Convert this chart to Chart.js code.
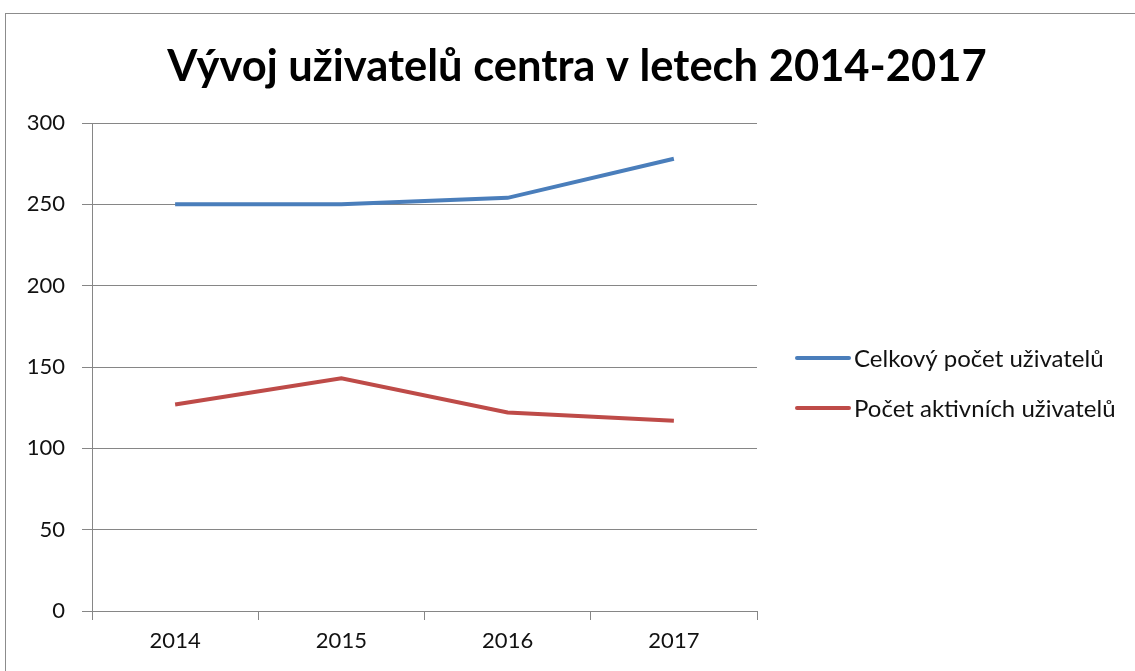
<!DOCTYPE html>
<html>
<head>
<meta charset="utf-8">
<script src="https://cdn.jsdelivr.net/npm/chart.js@4/dist/chart.umd.min.js"></script>
<style>
  html, body { margin: 0; padding: 0; background: #fff; }
  #wrap { position: relative; width: 1135px; height: 671px; overflow: hidden; }
  #frame { position: absolute; left: 5px; top: 13px; width: 1200px; height: 700px; border: 1px solid #8c8c8c; pointer-events: none; }
</style>
</head>
<body>
<div id="wrap">
  <canvas id="chart" width="1135" height="671"></canvas>
  <div id="frame"></div>
</div>
<script>
const years = ["2014", "2015", "2016", "2017"];
const totalUsers = [250, 250, 254, 278];
const activeUsers = [127, 143, 122, 117];
const seriesNames = ["Celkový počet uživatelů", "Počet aktivních uživatelů"];
const chartTitle = "Vývoj uživatelů centra v letech 2014-2017";
const yTicks = [0, 50, 100, 150, 200, 250, 300];

const FONT = "Lato, 'Noto Sans', sans-serif";

// title centred over whole picture + legend on the right
const extras = {
    id: "extras",
    afterDraw(chart) {
        const ctx = chart.ctx;
        ctx.save();
        ctx.fillStyle = "#000";
        ctx.font = "bold 43.5px " + FONT;
        ctx.textAlign = "center";
        ctx.textBaseline = "alphabetic";
        ctx.fillText(chartTitle, 577, 81);

        ctx.font = "24px " + FONT;
        ctx.textAlign = "left";
        ctx.textBaseline = "middle";
        chart.data.datasets.forEach((ds, i) => {
            const y = 358 + i * 50;
            ctx.strokeStyle = ds.borderColor;
            ctx.lineWidth = 4;
            ctx.lineCap = "round";
            ctx.beginPath();
            ctx.moveTo(797, y);
            ctx.lineTo(849, y);
            ctx.stroke();
            ctx.fillStyle = "#111";
            ctx.fillText(ds.label, 854, y + 1);
        });
        ctx.restore();
    }
};

new Chart(document.getElementById("chart"), {
    type: "line",
    data: {
        labels: years,
        datasets: [
            { label: seriesNames[0], data: totalUsers, borderColor: "#4A7EBB", backgroundColor: "#4A7EBB", borderWidth: 4, pointRadius: 0, tension: 0 },
            { label: seriesNames[1], data: activeUsers, borderColor: "#BE4B48", backgroundColor: "#BE4B48", borderWidth: 4, pointRadius: 0, tension: 0 }
        ]
    },
    options: {
        responsive: false,
        animation: false,
        layout: { padding: { left: 0, right: 378, top: 123, bottom: 0 } },
        plugins: {
            legend: { display: false },
            tooltip: { enabled: false },
            title: { display: false }
        },
        scales: {
            x: {
                offset: true,
                grid: { offset: true, drawOnChartArea: false, drawTicks: true, tickLength: 9, color: "#868686" },
                border: { color: "#868686" },
                ticks: { color: "#111", font: { family: FONT, size: 22 }, padding: 8 },
                afterFit(scale) { scale.height = 60; }
            },
            y: {
                min: 0,
                max: 300,
                afterBuildTicks(scale) { scale.ticks = yTicks.map(v => ({ value: v })); },
                grid: { color: "#868686", tickLength: 10 },
                border: { color: "#868686" },
                ticks: { color: "#111", font: { family: FONT, size: 22 }, padding: 17 },
                afterFit(scale) { scale.width = 92; }
            }
        }
    },
    plugins: [extras]
});
</script>
</body>
</html>
